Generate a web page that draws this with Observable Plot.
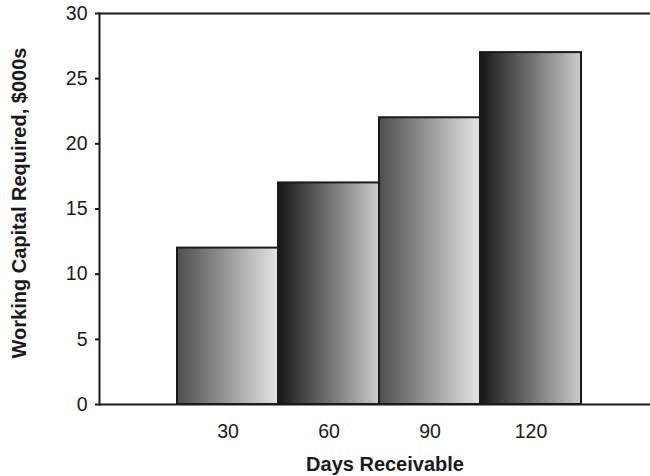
<!DOCTYPE html>
<html>
<head>
<meta charset="utf-8">
<script src="https://cdn.jsdelivr.net/npm/d3@7"></script>
<script src="https://cdn.jsdelivr.net/npm/@observablehq/plot@0.6"></script>
<style>
  html, body { margin: 0; padding: 0; background: #fff; }
  #chart svg { display: block; }
  #chart g[aria-label^="y-axis"] path, #chart g[aria-label^="y-axis"] line { stroke-width: 2; }
  #chart g[aria-label^="y-axis"] text, #chart g[aria-label^="x-axis"] text { font-size: 19.5px; }
</style>
</head>
<body>
<div id="chart"></div>
<script>
const days = [30, 60, 90, 120];
const capital = [12, 17, 22, 27];
const yTicks = [0, 5, 10, 15, 20, 25, 30];
const xLabel = "Days Receivable";
const yLabel = "Working Capital Required, $000s";

const data = days.map((d, i) => ({day: d, value: capital[i]}));
const ink = "#1a1a1a";

const svg = Plot.plot({
  width: 650,
  height: 476,
  marginLeft: 99,
  marginRight: 0,
  marginTop: 13,
  marginBottom: 72,
  style: {fontFamily: "'Liberation Sans', Arial, sans-serif", fontSize: "19.5px", color: ink, background: "#fff"},
  x: {domain: days, range: [176, 582], padding: 0, axis: "bottom", tickSize: 0, tickPadding: 20, label: null},
  y: {domain: [yTicks[0], yTicks[yTicks.length - 1]], ticks: yTicks, tickSize: 4, tickPadding: 8, label: null},
  marks: [
    Plot.barY(data, {filter: (d, i) => i % 2 === 0, x: "day", y: "value", fill: "url(#gLight)", stroke: ink, strokeWidth: 2}),
    Plot.barY(data, {filter: (d, i) => i % 2 === 1, x: "day", y: "value", fill: "url(#gDark)", stroke: ink, strokeWidth: 2}),
    Plot.ruleY([yTicks[0], yTicks[yTicks.length - 1]], {stroke: ink, strokeWidth: 2}),
    Plot.frame({anchor: "left", stroke: ink, strokeWidth: 2}),
    Plot.text([xLabel], {frameAnchor: "bottom", text: d => d, textAnchor: "middle", lineAnchor: "bottom", dy: 66, dx: 10, fontWeight: "bold", fontSize: 20, fill: ink}),
    Plot.text([yLabel], {frameAnchor: "left", text: d => d, textAnchor: "middle", lineAnchor: "middle", rotate: -90, dx: -80, dy: -6, fontWeight: "bold", fontSize: 20, fill: ink})
  ]
});

const defs = d3.select(svg).insert("defs", ":first-child");
function grad(id, c0, c1) {
  const g = defs.append("linearGradient").attr("id", id).attr("x1", "0").attr("x2", "1").attr("y1", "0").attr("y2", "0");
  g.append("stop").attr("offset", "0%").attr("stop-color", c0);
  g.append("stop").attr("offset", "100%").attr("stop-color", c1);
}
grad("gLight", "#4e4e4e", "#e4e4e4");
grad("gDark", "#161616", "#cbcbcb");

document.getElementById("chart").appendChild(svg);
</script>
</body>
</html>
